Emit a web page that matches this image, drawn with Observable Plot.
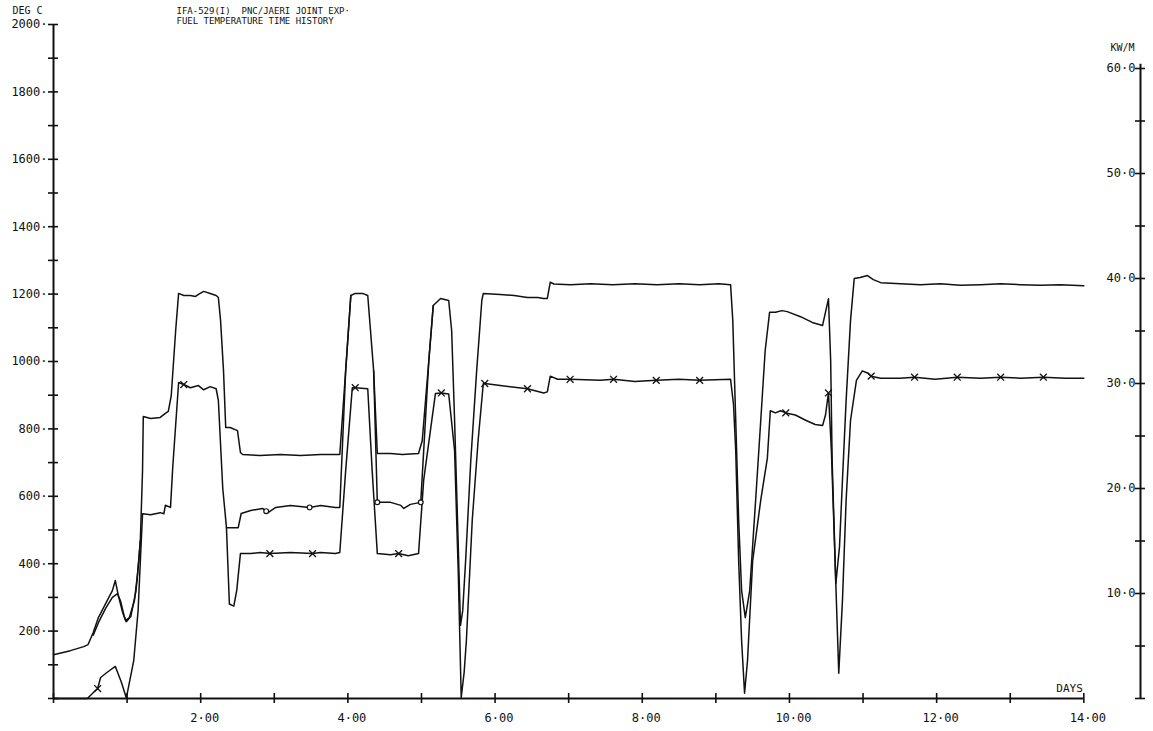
<!DOCTYPE html>
<html><head><meta charset="utf-8">
<script src="https://cdn.jsdelivr.net/npm/d3@7"></script>
<script src="https://cdn.jsdelivr.net/npm/@observablehq/plot@0.6"></script>
<style>html,body{margin:0;padding:0;background:#fff;}</style>
</head><body><div id="chart"></div>
<script>
// ---- data (day, value) ----
// fuel centre temperature, deg C (upper trace)
const fuelTempA = [[0,130],[0.23,142],[0.41,154],[0.47,160],[0.54,196],[0.61,240],[0.71,282],[0.80,320],[0.84,350],[0.88,306],[0.94,255],[0.98,231],[1.03,240],[1.10,291],[1.14,365],[1.18,469],[1.21,677],[1.22,837],[1.32,831],[1.45,834],[1.52,846],[1.56,852],[1.60,899],[1.66,1092],[1.70,1202],[1.77,1196],[1.86,1196],[1.93,1193],[1.97,1199],[2.04,1208],[2.13,1202],[2.21,1196],[2.24,1190],[2.27,1122],[2.31,973],[2.34,804],[2.40,804],[2.50,795],[2.54,730],[2.57,724],[2.81,721],[3.08,724],[3.36,721],[3.63,724],[3.89,724],[3.97,973],[4.04,1196],[4.10,1202],[4.20,1202],[4.27,1196],[4.35,973],[4.40,727],[4.58,727],[4.74,724],[4.96,727],[5.01,765],[5.10,1003],[5.16,1166],[5.26,1187],[5.37,1181],[5.41,1092],[5.45,825],[5.49,528],[5.53,217],[5.56,260],[5.60,409],[5.67,706],[5.75,973],[5.82,1181],[5.84,1202],[6.07,1199],[6.26,1196],[6.44,1190],[6.58,1190],[6.66,1187],[6.71,1187],[6.75,1235],[6.80,1230],[7.02,1228],[7.30,1231],[7.60,1228],[7.90,1231],[8.20,1228],[8.50,1231],[8.78,1228],[9.04,1231],[9.20,1228],[9.23,1122],[9.27,825],[9.31,528],[9.35,320],[9.40,240],[9.46,320],[9.54,587],[9.61,825],[9.67,1032],[9.73,1146],[9.81,1146],[9.90,1151],[9.97,1148],[10.15,1133],[10.31,1116],[10.45,1107],[10.53,1186],[10.56,1003],[10.58,706],[10.63,341],[10.68,450],[10.72,647],[10.77,884],[10.83,1122],[10.88,1246],[10.96,1249],[11.06,1255],[11.14,1243],[11.24,1234],[11.51,1231],[11.78,1228],[12.05,1231],[12.32,1226],[12.60,1228],[12.87,1231],[13.14,1228],[13.41,1226],[13.68,1228],[14.0,1225]];

// second thermocouple, deg C (trace with "o" symbols; hidden where it merges)
const fuelTempB = [[0.54,188],[0.61,225],[0.71,268],[0.80,300],[0.87,311],[0.91,290],[0.96,245],[0.99,228],[1.05,243],[1.12,318],[1.16,409],[1.18,469],[1.19,null],
  [2.35,507],[2.39,507],[2.51,507],[2.55,549],[2.68,558],[2.84,564],[2.89,556],[2.92,552],[3.02,567],[3.22,573],[3.48,567],[3.63,573],[3.83,567],[3.89,567],[3.97,973],[4.04,1196],[4.05,null],
  [4.35,973],[4.40,582],[4.58,582],[4.72,573],[4.76,564],[4.85,576],[4.99,582],[5.10,1003],[5.16,1166]];

// linear heat rating, kW/m (trace with "x" symbols, right axis)
const linearPower = [[0,0],[0.46,0],[0.57,0.76],[0.60,0.95],[0.64,2.0],[0.73,2.5],[0.84,3.05],[0.92,1.6],[0.99,0.05],[1.09,3.6],[1.15,8.4],[1.18,13.1],[1.21,17.6],[1.32,17.5],[1.45,17.7],[1.50,17.6],[1.52,18.4],[1.59,18.2],[1.62,22.0],[1.70,30.1],[1.77,29.9],[1.86,29.6],[1.97,29.8],[2.04,29.4],[2.13,29.7],[2.21,29.5],[2.24,28.4],[2.30,20.0],[2.35,16.3],[2.39,9.0],[2.45,8.8],[2.49,10.3],[2.54,13.8],[2.68,13.8],[2.81,13.9],[2.94,13.8],[3.22,13.9],[3.52,13.8],[3.63,13.9],[3.83,13.8],[3.89,13.9],[3.97,21.7],[4.06,29.6],[4.10,29.6],[4.27,29.5],[4.33,21.7],[4.40,13.8],[4.58,13.7],[4.69,13.8],[4.82,13.6],[4.96,13.8],[5.03,20.8],[5.19,29.05],[5.27,29.1],[5.37,29.0],[5.45,23.6],[5.50,12.0],[5.54,0.1],[5.58,2.5],[5.61,5.5],[5.69,17.0],[5.77,24.6],[5.84,30.0],[5.86,30.0],[6.07,29.8],[6.44,29.5],[6.66,29.1],[6.71,29.2],[6.75,30.7],[6.85,30.4],[7.02,30.4],[7.43,30.3],[7.61,30.4],[7.90,30.2],[8.19,30.3],[8.50,30.4],[8.78,30.3],[9.20,30.4],[9.24,28.0],[9.27,23.6],[9.31,13.1],[9.35,5.5],[9.39,0.5],[9.43,3.6],[9.50,13.1],[9.61,18.9],[9.70,22.9],[9.74,27.4],[9.81,27.2],[9.88,27.4],[9.95,27.2],[10.08,27.0],[10.22,26.5],[10.35,26.1],[10.45,26.0],[10.49,27.0],[10.53,29.1],[10.57,23.6],[10.62,13.1],[10.67,2.4],[10.72,9.3],[10.77,18.9],[10.83,26.5],[10.91,30.3],[10.99,31.2],[11.06,31.0],[11.11,30.7],[11.24,30.5],[11.50,30.5],[11.70,30.6],[11.98,30.4],[12.28,30.6],[12.60,30.5],[12.87,30.6],[13.14,30.5],[13.45,30.6],[13.75,30.5],[14.0,30.5]];

// days where plot symbols are drawn
const powerMarkerDays = [0.60,1.77,2.94,3.52,4.10,4.69,5.27,5.86,6.44,7.02,7.61,8.19,8.78,9.95,10.53,11.11,11.70,12.28,12.87,13.45];
const tempBMarkerDays = [2.89,3.48,4.40,4.99];

// axes
const dayTicks = d3.range(0, 15, 1);
const dayLabels = [2,4,6,8,10,12,14];
const tempTicks = d3.range(0, 2001, 100);
const tempLabels = [200,400,600,800,1000,1200,1400,1600,1800,2000];
const powerTicks = d3.range(0, 61, 5);
const powerLabels = [10,20,30,40,50,60];
const titleLines = ["IFA-529(I)\u00a0\u00a0PNC/JAERI JOINT EXP\u00b7", "FUEL TEMPERATURE TIME HISTORY"];

// scale set-up: left axis 0-2000 deg C, right axis 0-60 kW/m (shorter axis)
const tempMax = 2000, xEnd = 14, xFrameEnd = 14.77;
const kwToTemp = (2000 / 674) * (630 / 60);

const FONT = "DejaVu Sans Mono";
const INK = "#111";

const chart = Plot.plot({
  width: 1153, height: 731,
  marginLeft: 53, marginRight: 13, marginTop: 24, marginBottom: 33,
  x: {domain: [0, xFrameEnd], axis: null},
  y: {domain: [0, tempMax], axis: null},
  style: {background: "#fff", color: INK, fontFamily: FONT},
  marks: [
    // axis lines
    Plot.ruleX([0], {y1: 0, y2: tempMax, stroke: INK, strokeWidth: 2}),
    Plot.ruleY([0], {x1: 0, x2: xEnd, stroke: INK, strokeWidth: 2}),
    Plot.ruleX([xFrameEnd], {y1: 0, y2: 60.4 * kwToTemp, stroke: INK, strokeWidth: 2}),
    // tick crosses
    Plot.ruleY(tempTicks, {y: d => d, x1: () => 0, x2: () => 0, insetLeft: -5, insetRight: -5, stroke: INK, strokeWidth: 1.6}),
    Plot.ruleY(powerTicks, {y: d => d * kwToTemp, x1: () => xFrameEnd, x2: () => xFrameEnd, insetLeft: -5, insetRight: -5, stroke: INK, strokeWidth: 1.6}),
    Plot.ruleX(dayTicks, {x: d => d, y1: () => 0, y2: () => 0, insetTop: -5, insetBottom: -5, stroke: INK, strokeWidth: 1.6}),
    // tick labels
    Plot.text(tempLabels, {x: () => 0, y: d => d, text: d => `${d}\u00b7`, textAnchor: "end", dx: -6, fontSize: 12, fontFamily: FONT, fill: INK}),
    Plot.text(powerLabels, {x: () => xFrameEnd, y: d => d * kwToTemp, text: d => `${d}\u00b70`, textAnchor: "end", dx: -5, fontSize: 12, fontFamily: FONT, fill: INK}),
    Plot.text(dayLabels, {x: d => d, y: () => 0, text: d => `${d}\u00b700`, textAnchor: "middle", dx: 4, dy: 20, fontSize: 12, fontFamily: FONT, fill: INK}),
    Plot.text(["DAYS"], {x: () => xEnd, y: () => 0, textAnchor: "end", dx: -1, dy: -10, fontSize: 11, fontFamily: FONT, fill: INK}),
    Plot.text(["KW/M"], {frameAnchor: "top-right", textAnchor: "middle", dx: -18, dy: 19, fontSize: 10, fontFamily: FONT, fill: INK}),
    Plot.text(["DEG C"], {frameAnchor: "top-left", textAnchor: "start", dx: -41, dy: -18, fontSize: 10, fontFamily: FONT, fill: INK}),
    Plot.text([titleLines[0]], {frameAnchor: "top-left", textAnchor: "start", dx: 123, dy: -17, fontSize: 9, fontFamily: FONT, fill: INK}),
    Plot.text([titleLines[1]], {frameAnchor: "top-left", textAnchor: "start", dx: 123, dy: -7, fontSize: 9, fontFamily: FONT, fill: INK}),
    // traces
    Plot.line(fuelTempA, {x: d => d[0], y: d => d[1], stroke: INK, strokeWidth: 1.5}),
    Plot.line(fuelTempB, {x: d => d[0], y: d => d[1], stroke: INK, strokeWidth: 1.5}),
    Plot.line(linearPower, {x: d => d[0], y: d => d[1] * kwToTemp, stroke: INK, strokeWidth: 1.5}),
    // symbols
    Plot.dot(linearPower.filter(d => powerMarkerDays.includes(d[0])), {x: d => d[0], y: d => d[1] * kwToTemp, symbol: "times", r: 3.2, stroke: INK, strokeWidth: 1.3}),
    Plot.dot(fuelTempB.filter(d => tempBMarkerDays.includes(d[0])), {x: d => d[0], y: d => d[1], symbol: "circle", r: 2.4, fill: "#fff", stroke: INK, strokeWidth: 1.2})
  ]
});
document.getElementById("chart").appendChild(chart);
</script></body></html>
